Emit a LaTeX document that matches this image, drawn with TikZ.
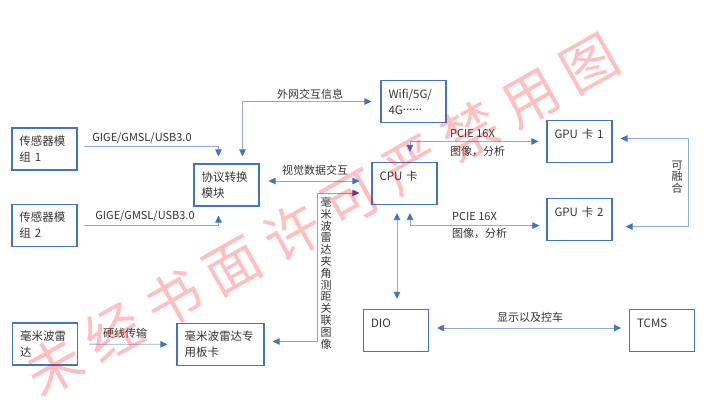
\documentclass[tikz,border=0pt]{standalone}
\usepackage{fontspec}
\setmainfont{Noto Sans CJK SC}
\newfontfamily\wmfont[LetterSpace=22]{Noto Sans CJK SC}
\usepackage{tikz}
\usetikzlibrary{arrows.meta, positioning}
\definecolor{boxblue}{HTML}{4472C4}
\definecolor{lineblue}{HTML}{8FAADC}
\definecolor{tipviolet}{HTML}{7030A0}
\definecolor{txtgray}{HTML}{333333}

\begin{document}
\begin{tikzpicture}[
        x=1pt, y=-1pt,
        >={Triangle[length=7pt, width=6.5pt, color=boxblue]},
        box/.style={
            rectangle,
            draw=boxblue,
            line width=1.1pt,
            text width=50pt,
            inner xsep=7.5pt,
            inner ysep=0pt,
            minimum height=42pt,
            align=left,
            text=txtgray,
            font=\fontsize{11.5}{16}\selectfont
        },
        topline/.style={text depth=15pt},
        lbl/.style={text=txtgray, inner sep=1pt, font=\fontsize{11}{14}\selectfont},
        vlbl/.style={lbl, align=center, font=\fontsize{11}{11.8}\selectfont},
        arr/.style={->, draw=lineblue, line width=0.8pt, shorten >=7pt, shorten <=7pt},
        dbl/.style={arr, <->},
        wmark/.style={text=red, opacity=0.25, inner sep=0pt, font=\wmfont\fontsize{56}{60}\selectfont}
    ]
        \useasboundingbox (0,0) rectangle (709,412);
        \node[box] (sens1) at (44.5,149) {传感器模\\组 1};
        \node[box, below=33pt of sens1] (sens2) {传感器模\\组 2};
        \node[box] (conv) at (226.5,185) {协议转换\\模块};
        \node[box] (wifi) at (413.5,101.5) {Wifi/5G/\\4G\raisebox{0.32em}{......}};
        \node[box, topline] (cpu) at (404.5,183.5) {CPU 卡};
        \node[box, topline] (gpu1) at (579.5,141.5) {GPU 卡 1};
        \node[box, topline, below=35pt of gpu1] (gpu2) {GPU 卡 2};
        \node[box] (radar) at (45,344) {毫米波雷\\达};
        \node[box, text width=72pt] (rcard) at (220.5,344.5) {毫米波雷达专\\用板卡};
        \node[box, topline] (dio) at (396,330.5) {DIO};
        \node[box, topline, right=200pt of dio] (tcms) {TCMS};
        \coordinate (rbend) at (317,193);
        \coordinate (fuse) at (688,180);
        \draw[arr, shorten <=6pt] ([yshift=3pt]sens1.east) -| ([xshift=-8pt]conv.north);
        \draw[arr, shorten <=6pt, shorten >=9pt] (sens2.east) -| ([xshift=-8pt]conv.south);
        \draw[dbl, shorten >=9pt] ([xshift=16pt]conv.north) |- (wifi.west);
        \draw[dbl, shorten <=9pt, shorten >=12pt] ([yshift=4pt]conv.east) -- ([yshift=4pt]conv.east -| cpu.west);
        \draw[draw=lineblue!80!gray, line width=0.8pt, shorten <=8pt, shorten >=12pt, <-{Triangle[length=7pt, width=6.5pt, color=tipviolet]}] ([yshift=3pt]rcard.east) -| (rbend) -- (rbend -| cpu.west);
        \draw[dbl, shorten <=10pt, shorten >=8pt] ([xshift=5.5pt]cpu.north) |- (gpu1.west);
        \draw[dbl, shorten <=8pt, shorten >=7pt] ([xshift=5.5pt]cpu.south) |- ([yshift=-6pt]gpu2.west);
        \draw[dbl, shorten <=8pt, shorten >=10pt] ([xshift=-7.5pt]cpu.south) -- ([xshift=-7.5pt]cpu.south |- dio.north);
        \draw[dbl, shorten <=8pt, shorten >=13pt] ([yshift=3pt]gpu1.east) -| (fuse) |- ([yshift=-7pt]gpu2.east);
        \draw[arr, shorten <=11pt, shorten >=9pt] (radar) -- (rcard);
        \draw[dbl, shorten <=8pt, shorten >=8pt] ([yshift=2.5pt]dio.east) -- ([yshift=2.5pt]dio.east -| tcms.west);
        \node[lbl] (gige1) at (142,138) {GIGE/GMSL/USB3.0};
        \node[lbl] (gige2) at (145,216) {GIGE/GMSL/USB3.0};
        \node[lbl] (extnet) at (310,94) {外网交互信息};
        \node[lbl] (vision) at (315,170) {视觉数据交互};
        \node[lbl, anchor=west, align=left, font=\fontsize{11}{18}\selectfont] (pcie1) at (449,143) {PCIE 16X\\图像，分析};
        \node[lbl, anchor=west, align=left, font=\fontsize{11}{17}\selectfont] (pcie2) at (451,225.5) {PCIE 16X\\图像，分析};
        \node[lbl] (hwire) at (125,333) {硬线传输};
        \node[lbl] (ctrl) at (530,317) {显示以及控车};
        \node[vlbl] (rlink) at (326,273) {毫\\米\\波\\雷\\达\\夹\\角\\测\\距\\关\\联\\图\\像};
        \node[vlbl] (fusible) at (677,177) {可\\融\\合};
        \node[wmark, rotate=29.5] (wm) at (322,215) {未经书面许可严禁用图};
    \end{tikzpicture}
\end{document}
